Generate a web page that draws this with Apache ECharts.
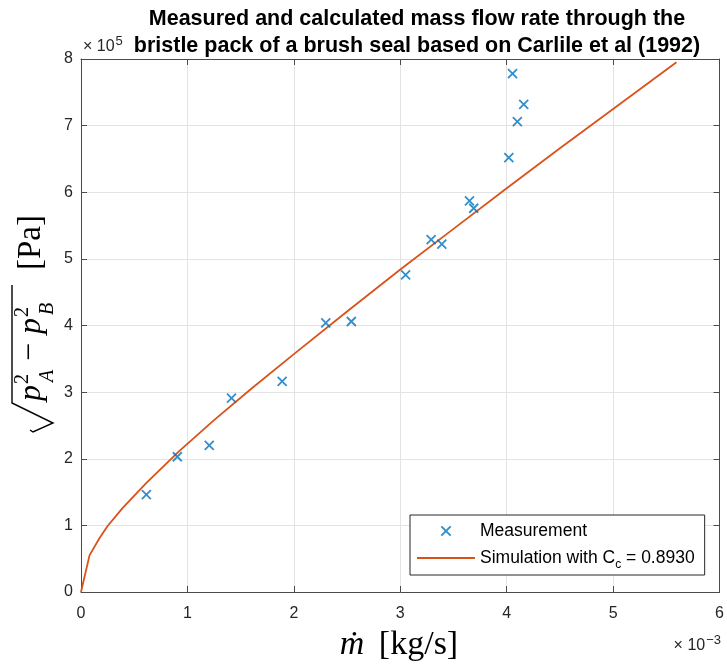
<!DOCTYPE html>
<html><head><meta charset="utf-8">
<script src="https://cdn.jsdelivr.net/npm/echarts@6/dist/echarts.min.js"></script>
<style>html,body{margin:0;padding:0;background:#fff}#c{width:727px;height:668px}</style>
</head><body><div id="c"></div>
<script>
// mass flow in units of 1e-3 kg/s, pressure term in units of 1e5 Pa
const measM = [0.614, 0.905, 1.205, 1.414, 1.89, 2.30, 2.54, 3.05, 3.29, 3.39, 3.65, 3.69, 4.02, 4.055, 4.10, 4.16];
const measP = [1.46, 2.03, 2.20, 2.91, 3.16, 4.04, 4.06, 4.76, 5.29, 5.22, 5.87, 5.76, 6.52, 7.78, 7.06, 7.32];
const simM = [0, 0.08, 0.17, 0.25, 0.39, 0.61, 0.92, 1.25, 1.60, 2.00, 2.50, 3.00, 3.50, 4.00, 4.50, 5.00, 5.595];
const simP = [0, 0.55, 0.80, 0.99, 1.26, 1.63, 2.11, 2.58, 3.05, 3.57, 4.21, 4.84, 5.45, 6.06, 6.66, 7.25, 7.95];
const xTicks = [0, 1, 2, 3, 4, 5, 6];
const yTicks = [0, 1, 2, 3, 4, 5, 6, 7, 8];
const titleLines = ['Measured and calculated mass flow rate through the', 'bristle pack of a brush seal based on Carlile et al (1992)'];

const AX = '#4a4a4a';
const chart = echarts.init(document.getElementById('c'), null, {renderer: 'canvas'});
const xMin = xTicks[0], xMax = xTicks[xTicks.length - 1];
const yMin = yTicks[0], yMax = yTicks[yTicks.length - 1];
const baseAxis = (min, max) => ({
  type: 'value', min: min, max: max, interval: 1,
  axisLine: {show: true, onZero: false, lineStyle: {color: AX, width: 1}},
  axisTick: {show: true, inside: true, length: 6, lineStyle: {color: AX}},
});
const serif = 'Liberation Serif';
const yl = (lx, ly, text, size, italic, align) => ({
  type: 'text', x: lx, y: ly,
  style: {text: text, fontFamily: serif, fontSize: size, fontStyle: italic ? 'italic' : 'normal', fill: '#000', align: align || 'left', verticalAlign: 'middle'}
});
chart.setOption({
  animation: false,
  backgroundColor: '#fff',
  grid: {left: 81, top: 59, right: 6, bottom: 76, containLabel: false},
  xAxis: [
    Object.assign(baseAxis(xMin, xMax), {position: 'bottom',
      axisLabel: {color: '#262626', fontFamily: 'Liberation Sans', fontSize: 16, margin: 14},
      splitLine: {show: true, lineStyle: {color: '#e3e3e3', width: 1}}}),
    Object.assign(baseAxis(xMin, xMax), {position: 'top', axisLabel: {show: false}, splitLine: {show: false}})
  ],
  yAxis: [
    Object.assign(baseAxis(yMin, yMax), {position: 'left',
      axisLabel: {color: '#262626', fontFamily: 'Liberation Sans', fontSize: 16, margin: 8},
      splitLine: {show: true, lineStyle: {color: '#e3e3e3', width: 1}}}),
    Object.assign(baseAxis(yMin, yMax), {position: 'right', axisLabel: {show: false}, splitLine: {show: false}})
  ],
  legend: {
    orient: 'vertical', left: 410, top: 515,
    data: [
      {name: 'Measurement', icon: 'path://M-2.5,-2.5M12.5,12.5M0,0L10,10M10,0L0,10'},
      {name: 'Simulation', icon: 'path://M0,0H58V2H0Z', itemStyle: {color: '#D95319', borderWidth: 0}}
    ],
    itemWidth: 58, itemHeight: 14, itemGap: 9,
    padding: [7, 10, 4, 7],
    backgroundColor: '#fff', borderColor: '#262626', borderWidth: 1, borderRadius: 0,
    textStyle: {fontFamily: 'Liberation Sans', fontSize: 17.5, color: '#000',
      rich: {sub: {fontFamily: 'Liberation Sans', fontSize: 12, color: '#000', verticalAlign: 'bottom', lineHeight: 26}}},
    formatter: function (name) { return name === 'Simulation' ? 'Simulation with C{sub|c} = 0.8930' : name; }
  },
  series: [
    {name: 'Simulation', type: 'line', xAxisIndex: 0, yAxisIndex: 0,
      data: simM.map((m, i) => [m, simP[i]]),
      showSymbol: false, symbol: 'none', smooth: false,
      lineStyle: {color: '#D95319', width: 1.8}, itemStyle: {color: '#D95319'}, z: 3},
    {name: 'Measurement', type: 'scatter', xAxisIndex: 0, yAxisIndex: 0,
      data: measM.map((m, i) => [m, measP[i]]),
      symbol: 'path://M0,0L10,10M10,0L0,10', symbolSize: 9,
      itemStyle: {color: 'rgba(0,0,0,0)', borderColor: '#0072BD', borderWidth: 1.8}, z: 4}
  ],
  graphic: [
    {type: 'text', x: 417, y: 19, style: {text: titleLines[0], fontFamily: 'Liberation Sans', fontWeight: 'bold', fontSize: 21.5, fill: '#000', align: 'center', verticalAlign: 'middle'}},
    {type: 'text', x: 417, y: 46, style: {text: titleLines[1], fontFamily: 'Liberation Sans', fontWeight: 'bold', fontSize: 21.5, fill: '#000', align: 'center', verticalAlign: 'middle'}},
    {type: 'text', x: 83, y: 47, style: {text: '× 10{s|5}', fontFamily: 'Liberation Sans', fontSize: 16, fill: '#262626', align: 'left', verticalAlign: 'middle',
      rich: {s: {fontFamily: 'Liberation Sans', fontSize: 13, fill: '#262626', verticalAlign: 'top', lineHeight: 24, padding: [0, 0, 0, 1]}}}},
    {type: 'text', x: 721, y: 646, style: {text: '× 10{s|−3}', fontFamily: 'Liberation Sans', fontSize: 16, fill: '#262626', align: 'right', verticalAlign: 'middle',
      rich: {s: {fontFamily: 'Liberation Sans', fontSize: 13, fill: '#262626', verticalAlign: 'top', lineHeight: 24, padding: [0, 0, 0, 1]}}}},
    {type: 'text', x: 399, y: 645, style: {text: '{i|ṁ} [kg/s]', fontFamily: serif, fontSize: 34, fill: '#000', align: 'center', verticalAlign: 'middle',
      rich: {i: {fontFamily: serif, fontStyle: 'italic', fontSize: 34, fill: '#000', padding: [0, 6, 0, 0]}}}},
    {type: 'group', x: 0, y: 433, rotation: Math.PI / 2, children: [
      {type: 'polyline', shape: {points: [[3, 30], [1, 33], [10, 53], [30, 12], [148, 12]]}, style: {stroke: '#000', lineWidth: 1.4, fill: null}},
      yl(32, 32, 'p', 32, true),
      yl(49, 23, '2', 20, false),
      yl(51, 48, 'A', 20, true),
      yl(72, 31, '−', 32, false),
      yl(99, 32, 'p', 32, true),
      yl(116, 23, '2', 20, false),
      yl(118, 48, 'B', 20, true),
      yl(163, 31, '[Pa]', 33, false)
    ]}
  ]
});
</script></body></html>
